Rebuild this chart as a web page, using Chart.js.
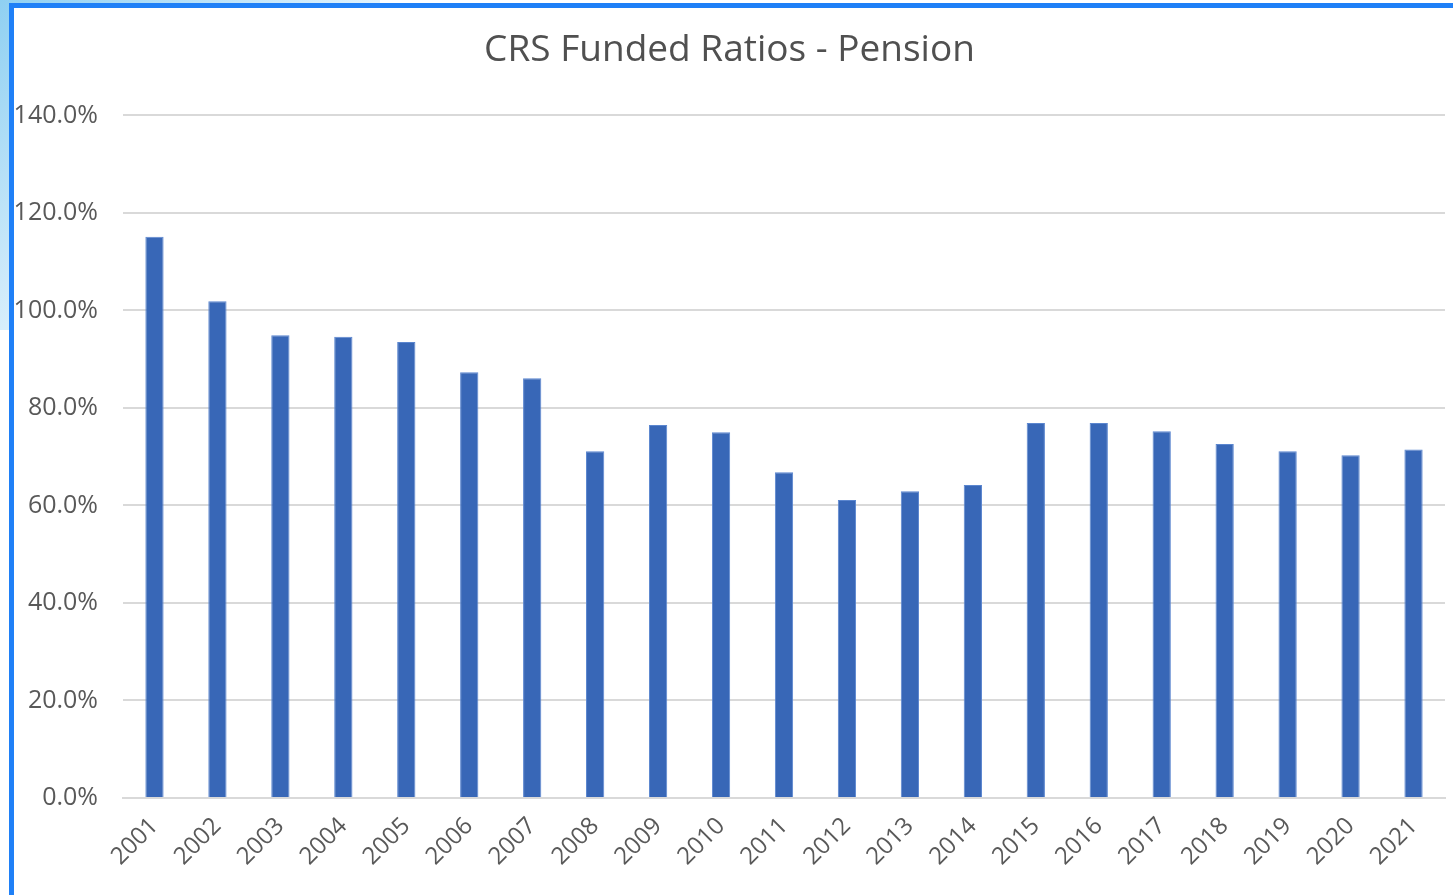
<!DOCTYPE html>
<html>
<head>
<meta charset="utf-8">
<script src="https://cdn.jsdelivr.net/npm/chart.js@4.4.0/dist/chart.umd.min.js"></script>
<style>
    html, body { margin: 0; padding: 0; background: #fff; overflow: hidden; }
    #corner { position: absolute; left: 0; top: 0; width: 380px; height: 330px;
        background: linear-gradient(135deg, #8fd0f2 0%, #cdeafa 40%, rgba(255,255,255,0) 75%); }
    #frame { position: absolute; left: 9px; top: 3px; width: 1460px; height: 900px;
        border-left: 5px solid #1f80f7; border-top: 5px solid #1f80f7; background: #fff; }
    #wrap { position: absolute; left: 0; top: 0; width: 1453px; height: 895px; }
</style>
</head>
<body>
<div id="corner"></div>
<div id="frame"></div>
<div id="wrap"><canvas id="fundedChart" width="1453" height="895"></canvas></div>
<script>
const years = ['2001', '2002', '2003', '2004', '2005', '2006', '2007', '2008', '2009', '2010', '2011',
    '2012', '2013', '2014', '2015', '2016', '2017', '2018', '2019', '2020', '2021'];
const fundedRatio = [115.1, 101.9, 94.9, 94.6, 93.5, 87.3, 86.1, 71.1, 76.5, 75.0, 66.8,
    61.1, 62.9, 64.2, 76.9, 76.9, 75.2, 72.6, 71.1, 70.3, 71.5];
const yTicks = [0, 20, 40, 60, 80, 100, 120, 140];

const txt = '#595959';
const font = "'Open Sans', sans-serif";

const funded = document.getElementById('fundedChart');

new Chart(funded, {
    type: 'bar',
    data: {
        labels: years,
        datasets: [{
            label: 'Funded Ratio',
            data: fundedRatio,
            backgroundColor: '#3867b7',
            borderColor: '#5b86cf',
            borderWidth: 1,
            categoryPercentage: 1,
            barPercentage: 0.29
        }]
    },
    options: {
        responsive: false,
        animation: false,
        layout: {
            padding: { left: 14, right: 8, top: 0, bottom: 0 }
        },
        plugins: {
            legend: { display: false },
            tooltip: { enabled: false },
            title: {
                display: true,
                text: 'CRS Funded Ratios - Pension',
                color: '#505050',
                font: { family: font, size: 37, weight: 'normal' },
                padding: { top: 28, bottom: 43 }
            }
        },
        scales: {
            x: {
                grid: { display: false, drawTicks: false },
                border: { display: true, color: '#d9d9d9', width: 2 },
                ticks: {
                    color: txt,
                    font: { family: font, size: 24 },
                    maxRotation: 45,
                    minRotation: 45,
                    padding: 14,
                    autoSkip: false
                },
                afterFit: (scale) => { scale.height = 97; }
            },
            y: {
                min: 0,
                max: 140,
                afterBuildTicks: (scale) => { scale.ticks = yTicks.map(v => ({ value: v })); },
                grid: { color: '#d9d9d9', lineWidth: 2, drawTicks: false },
                border: { display: false },
                ticks: {
                    color: txt,
                    font: { family: font, size: 25 },
                    padding: 25,
                    callback: (v) => v.toFixed(1) + '%'
                },
                afterFit: (scale) => { scale.width = 109; }
            }
        }
    }
});
</script>
</body>
</html>
